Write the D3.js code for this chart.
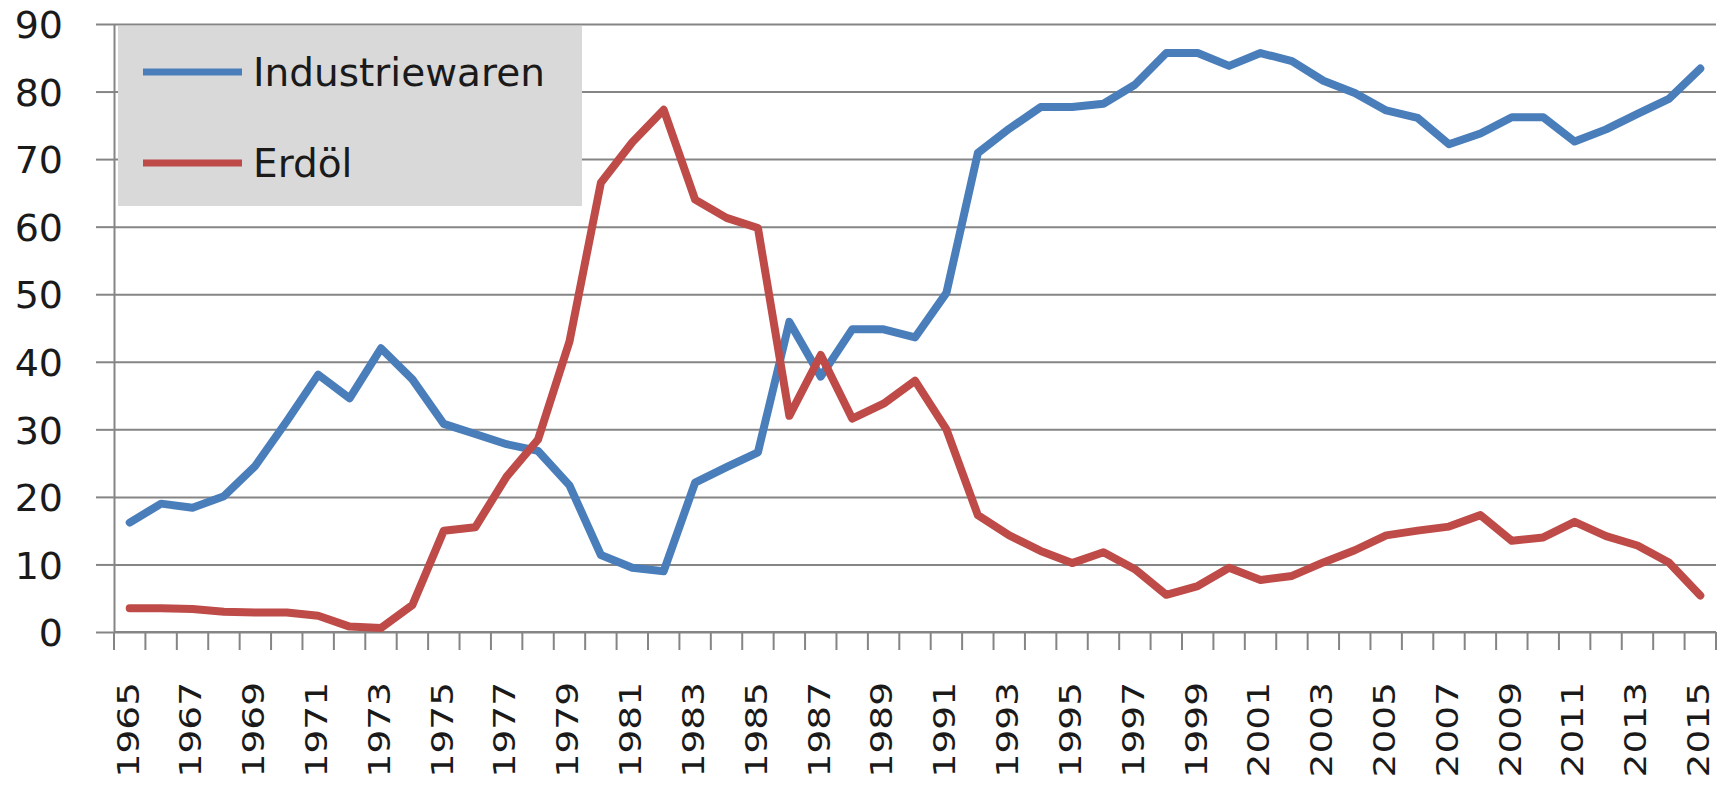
<!DOCTYPE html>
<html>
<head>
<meta charset="utf-8">
<script src="https://cdn.jsdelivr.net/npm/d3@7"></script>
<style>
  body { margin: 0; background: #fff; }
  text { font-family: "DejaVu Sans", sans-serif; fill: #1a1a1a; }
</style>
</head>
<body>
<div class="chart"></div>
<script>
var years = [1965, 1966, 1967, 1968, 1969, 1970, 1971, 1972, 1973, 1974,
             1975, 1976, 1977, 1978, 1979, 1980, 1981, 1982, 1983, 1984,
             1985, 1986, 1987, 1988, 1989, 1990, 1991, 1992, 1993, 1994,
             1995, 1996, 1997, 1998, 1999, 2000, 2001, 2002, 2003, 2004,
             2005, 2006, 2007, 2008, 2009, 2010, 2011, 2012, 2013, 2014, 2015];

var industriewaren = [16.2, 19.0, 18.4, 20.1, 24.6, 31.2, 38.1, 34.6, 42.0, 37.4,
                      30.8, 29.3, 27.8, 26.8, 21.7, 11.4, 9.5, 9.0, 22.1, 24.4,
                      26.6, 45.9, 37.8, 44.8, 44.8, 43.6, 50.2, 70.9, 74.5, 77.7,
                      77.7, 78.2, 81.0, 85.7, 85.7, 83.8, 85.7, 84.5, 81.6, 79.8,
                      77.2, 76.1, 72.2, 73.8, 76.2, 76.2, 72.6, 74.4, 76.7, 78.9, 83.4];

var erdoel = [3.5, 3.5, 3.4, 3.0, 2.9, 2.9, 2.4, 0.8, 0.6, 4.0,
              15.0, 15.5, 23.0, 28.5, 43.0, 66.5, 72.5, 77.3, 64.0, 61.3,
              59.8, 32.0, 41.0, 31.6, 33.8, 37.2, 30.0, 17.3, 14.3, 12.0,
              10.2, 11.8, 9.3, 5.5, 6.8, 9.5, 7.7, 8.3, 10.3, 12.1,
              14.3, 15.0, 15.6, 17.3, 13.5, 14.0, 16.3, 14.2, 12.8, 10.3, 5.4];

var yTicks = [0, 10, 20, 30, 40, 50, 60, 70, 80, 90];
var labelYears = years.filter(function (d, i) { return i % 2 === 0; });

var seriesNames = ["Industriewaren", "Erdöl"];
var seriesColors = ["#4a7ebb", "#be4b48"];

var width = 1733,
    height = 785,
    plot_left = 114,
    plot_right = 1716,
    plot_top = 24,
    plot_bottom = 632,
    grid_color = "#858585";

var svg = d3.select(".chart")
    .append("svg")
    .attr("width", width)
    .attr("height", height);

var x = d3.scaleBand()
    .domain(years)
    .range([plot_left, plot_right]);

var y = d3.scaleLinear()
    .domain([0, 90])
    .range([plot_bottom, plot_top]);

// horizontal gridlines
svg.append("g")
    .attr("transform", "translate(" + plot_left + ",0)")
    .call(d3.axisLeft(y).tickValues(yTicks).tickSize(-(plot_right - plot_left)).tickFormat(""))
    .call(function (g) { g.select(".domain").remove(); })
    .selectAll("line")
    .attr("stroke", grid_color)
    .attr("stroke-width", 2);

// y axis
var yAxis = svg.append("g")
    .attr("transform", "translate(" + plot_left + ",0)")
    .call(d3.axisLeft(y).tickValues(yTicks).tickSizeInner(18).tickSizeOuter(0).tickPadding(33));
yAxis.select(".domain").attr("stroke", grid_color).attr("stroke-width", 2);
yAxis.selectAll(".tick line").attr("stroke", grid_color).attr("stroke-width", 2);
yAxis.selectAll("text")
    .attr("font-size", 38)
    .attr("fill", "#1a1a1a")
    .attr("dy", "0.36em");

// x axis line and tick marks at category borders
svg.append("line")
    .attr("x1", plot_left).attr("x2", plot_right)
    .attr("y1", plot_bottom).attr("y2", plot_bottom)
    .attr("stroke", grid_color).attr("stroke-width", 2);

svg.append("g")
    .selectAll("line")
    .data(years.concat(["end"]))
    .join("line")
    .attr("x1", function (d) { return d === "end" ? plot_right : x(d); })
    .attr("x2", function (d) { return d === "end" ? plot_right : x(d); })
    .attr("y1", plot_bottom)
    .attr("y2", plot_bottom + 18)
    .attr("stroke", grid_color)
    .attr("stroke-width", 2);

// x labels, every second year
var xAxis = svg.append("g")
    .attr("transform", "translate(0," + plot_bottom + ")")
    .call(d3.axisBottom(x).tickValues(labelYears).tickSize(0));
xAxis.select(".domain").remove();
xAxis.selectAll("text")
    .attr("font-size", 30)
    .attr("fill", "#1a1a1a")
    .attr("x", 0)
    .attr("y", 0)
    .attr("dy", "0.36em")
    .attr("text-anchor", "end")
    .attr("transform", "translate(-2,50) rotate(-90) scale(1.25,1)");

// legend box
svg.append("rect")
    .attr("x", 118)
    .attr("y", 26)
    .attr("width", 464)
    .attr("height", 180)
    .attr("fill", "#d9d9d9");

// lines
var line = d3.line()
    .x(function (d, i) { return x(years[i]) + x.bandwidth() / 2; })
    .y(function (d) { return y(d); });

svg.selectAll(".series")
    .data([industriewaren, erdoel])
    .join("path")
    .attr("class", "series")
    .attr("d", line)
    .attr("fill", "none")
    .attr("stroke", function (d, i) { return seriesColors[i]; })
    .attr("stroke-width", 8)
    .attr("stroke-linejoin", "round")
    .attr("stroke-linecap", "round");

// legend entries
var legend = svg.append("g")
    .selectAll("g")
    .data(seriesNames)
    .join("g")
    .attr("transform", function (d, i) { return "translate(143," + (72 + i * 91) + ")"; });

legend.append("line")
    .attr("x1", 0).attr("x2", 99)
    .attr("y1", 0).attr("y2", 0)
    .attr("stroke", function (d, i) { return seriesColors[i]; })
    .attr("stroke-width", 7);

legend.append("text")
    .attr("x", 110)
    .attr("dy", "0.36em")
    .attr("font-size", 39)
    .text(function (d) { return d; });
</script>
</body>
</html>
